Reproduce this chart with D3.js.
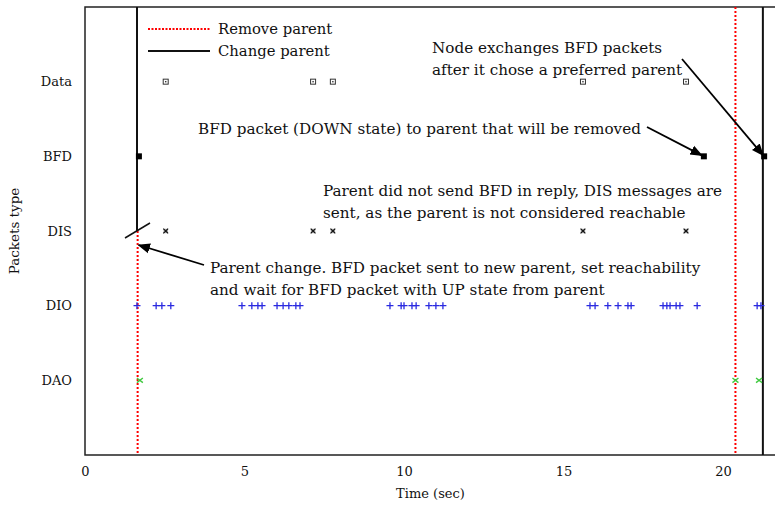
<!DOCTYPE html>
<html>
<head>
<meta charset="utf-8">
<script src="https://cdn.jsdelivr.net/npm/d3@7"></script>
<style>
body { margin: 0; background: #fff; }
svg text { font-family: "DejaVu Serif", "Liberation Serif", serif; fill: #111; }
</style>
</head>
<body>
<div id="chart"></div>
<script>
(function(){

	var width = 775;
	var height = 506;

	// packet types, bottom to top
	var types = ["DAO", "DIO", "DIS", "BFD", "Data"];
	var xTicks = [0, 5, 10, 15, 20];

	// packet times (sec)
	var dataTimes = [2.53, 7.15, 7.77, 15.61, 18.84];
	var bfdTimes = [1.69, 19.4, 21.29];
	var disTimes = [2.53, 7.15, 7.77, 15.61, 18.84];
	var dioTimes = [1.63, 2.23, 2.41, 2.69, 4.92, 5.23, 5.42, 5.55, 6.02, 6.21, 6.39, 6.61, 6.74,
		9.56, 9.91, 10.0, 10.25, 10.38, 10.78, 11.0, 11.22,
		15.83, 15.99, 16.39, 16.71, 17.02, 17.12, 18.12, 18.24, 18.34, 18.53, 18.65, 19.19,
		21.07, 21.19];
	var daoTimes = [1.72, 20.39, 21.13];

	// parent events
	var removeParent = [1.65, 20.39];
	var changeParent = [1.63, 21.25];

	var svg = d3.select("div#chart")
		.append("svg")
		.attr("width", width)
		.attr("height", height);

	var x = d3.scaleLinear().domain([0, 21.63]).range([85, 775]);
	var y = d3.scaleLinear().domain([0, 6]).range([455, 7]);
	var yPos = function(t){ return y(types.indexOf(t) + 1); };

	// frame
	svg.append("path")
		.attr("d", "M" + x(21.63) + "," + y(6) + "H" + x(0) + "V" + y(0) + "H" + x(21.63))
		.attr("fill", "none")
		.attr("stroke", "#222")
		.attr("stroke-width", 1.5);

	// x axis labels (no tick marks)
	var xAxis = d3.axisBottom(x).tickValues(xTicks).tickSize(0).tickPadding(12);
	var gx = svg.append("g").attr("transform", "translate(0," + y(0) + ")").call(xAxis);
	gx.select(".domain").remove();
	gx.selectAll("text").style("font-size", "13px").style("font-family", "\"DejaVu Serif\", serif");

	var yAxis = d3.axisLeft(y).tickValues(d3.range(1, 6)).tickSize(0).tickPadding(13)
		.tickFormat(function(d){ return types[d - 1]; });
	var gy = svg.append("g").attr("transform", "translate(" + x(0) + ",0)").call(yAxis);
	gy.select(".domain").remove();
	gy.selectAll("text").style("font-size", "13px").style("font-family", "\"DejaVu Serif\", serif");

	svg.append("text")
		.attr("x", x(10.83)).attr("y", 498)
		.attr("text-anchor", "middle")
		.style("font-size", "13px")
		.text("Time (sec)");
	svg.append("text")
		.attr("transform", "translate(19," + y(3) + ") rotate(-90)")
		.attr("text-anchor", "middle")
		.style("font-size", "13.5px")
		.text("Packets type");

	// parent event lines
	svg.append("line")
		.attr("x1", x(changeParent[0])).attr("x2", x(changeParent[0]))
		.attr("y1", y(6)).attr("y2", yPos("DIS"))
		.attr("stroke", "#111").attr("stroke-width", 2);
	svg.append("line")
		.attr("x1", x(removeParent[0])).attr("x2", x(removeParent[0]))
		.attr("y1", yPos("DIS")).attr("y2", y(0))
		.attr("stroke", "#f00").attr("stroke-width", 2).attr("stroke-dasharray", "2,2");
	svg.append("line")
		.attr("x1", x(removeParent[1])).attr("x2", x(removeParent[1]))
		.attr("y1", y(6)).attr("y2", y(0))
		.attr("stroke", "#f00").attr("stroke-width", 2).attr("stroke-dasharray", "2,2");
	svg.append("line")
		.attr("x1", x(changeParent[1])).attr("x2", x(changeParent[1]))
		.attr("y1", y(6)).attr("y2", y(0))
		.attr("stroke", "#111").attr("stroke-width", 2);
	// break mark
	svg.append("line")
		.attr("x1", 125).attr("y1", 238).attr("x2", 150).attr("y2", 223)
		.attr("stroke", "#111").attr("stroke-width", 1.5);

	// markers
	svg.selectAll(".data").data(dataTimes).enter().append("g")
		.attr("class", "data")
		.attr("transform", function(d){ return "translate(" + x(d) + "," + yPos("Data") + ")"; })
		.each(function(){
			var g = d3.select(this);
			g.append("rect").attr("x", -2.5).attr("y", -2.5).attr("width", 5).attr("height", 5)
				.attr("fill", "none").attr("stroke", "#333").attr("stroke-width", 1);
			g.append("rect").attr("x", -0.7).attr("y", -0.7).attr("width", 1.4).attr("height", 1.4).attr("fill", "#333");
		});

	svg.selectAll(".bfd").data(bfdTimes).enter().append("rect")
		.attr("class", "bfd")
		.attr("x", function(d){ return x(d) - 3; })
		.attr("y", yPos("BFD") - 3)
		.attr("width", 6).attr("height", 6)
		.attr("fill", "#000");

	svg.selectAll(".dis").data(disTimes).enter().append("g")
		.attr("class", "dis")
		.attr("transform", function(d){ return "translate(" + x(d) + "," + yPos("DIS") + ")"; })
		.each(function(){
			var g = d3.select(this);
			g.append("rect").attr("x", -2.2).attr("y", -2.2).attr("width", 4.4).attr("height", 4.4)
				.attr("fill", "#aaa");
			g.append("path").attr("d", "M-2.4,-2.4L2.4,2.4M-2.4,2.4L2.4,-2.4")
				.attr("stroke", "#111").attr("stroke-width", 1.2);
		});

	svg.selectAll(".dio").data(dioTimes).enter().append("path")
		.attr("class", "dio")
		.attr("d", function(d){
			var cx = x(d), cy = yPos("DIO");
			return "M" + (cx - 3.5) + "," + cy + "H" + (cx + 3.5) + "M" + cx + "," + (cy - 3.5) + "V" + (cy + 3.5);
		})
		.attr("stroke", "#2a2ae0").attr("stroke-width", 1.3);

	svg.selectAll(".dao").data(daoTimes).enter().append("path")
		.attr("class", "dao")
		.attr("d", function(d){
			var cx = x(d), cy = yPos("DAO");
			return "M" + (cx - 3) + "," + (cy - 2.3) + "L" + (cx + 3) + "," + (cy + 2.3) +
				"M" + (cx - 3) + "," + (cy + 2.3) + "L" + (cx + 3) + "," + (cy - 2.3);
		})
		.attr("stroke", "#3fc93f").attr("stroke-width", 1.4);

	// legend
	svg.append("line").attr("x1", 148).attr("x2", 210).attr("y1", 29).attr("y2", 29)
		.attr("stroke", "#f00").attr("stroke-width", 2).attr("stroke-dasharray", "2,1.5");
	svg.append("text").attr("x", 218).attr("y", 34).style("font-size", "14.8px").text("Remove parent");
	svg.append("line").attr("x1", 148).attr("x2", 210).attr("y1", 51).attr("y2", 51)
		.attr("stroke", "#111").attr("stroke-width", 2);
	svg.append("text").attr("x", 218).attr("y", 56).style("font-size", "14.8px").text("Change parent");

	// annotations
	var defs = svg.append("defs");
	defs.append("marker").attr("id", "arr")
		.attr("viewBox", "0 0 10 10").attr("refX", 9).attr("refY", 5)
		.attr("markerWidth", 7).attr("markerHeight", 7).attr("orient", "auto")
		.append("path").attr("d", "M0,1L10,5L0,9z").attr("fill", "#000");

	var notes = [
		{x: 432, y: 53, lines: ["Node exchanges BFD packets", "after it chose a preferred parent"]},
		{x: 198, y: 134, lines: ["BFD packet (DOWN state) to parent that will be removed"]},
		{x: 323, y: 196, lines: ["Parent did not send BFD in reply, DIS messages are", "sent, as the parent is not considered reachable"]},
		{x: 210, y: 273, lines: ["Parent change. BFD packet sent to new parent, set reachability", "and wait for BFD packet with UP state from parent"]}
	];
	notes.forEach(function(n){
		var t = svg.append("text").attr("x", n.x).attr("y", n.y).style("font-size", "15.2px");
		n.lines.forEach(function(l, i){
			t.append("tspan").attr("x", n.x).attr("dy", i === 0 ? 0 : 22).text(l);
		});
	});

	var arrows = [
		[682, 59, x(bfdTimes[2]) - 1, yPos("BFD") - 1],
		[647, 127, x(bfdTimes[1]) - 2, yPos("BFD") - 1],
		[204, 265, x(removeParent[0]) + 1, 245]
	];
	arrows.forEach(function(a){
		svg.append("line")
			.attr("x1", a[0]).attr("y1", a[1]).attr("x2", a[2]).attr("y2", a[3])
			.attr("stroke", "#000").attr("stroke-width", 1.8)
			.attr("marker-end", "url(#arr)");
	});

})();
</script>
</body>
</html>
